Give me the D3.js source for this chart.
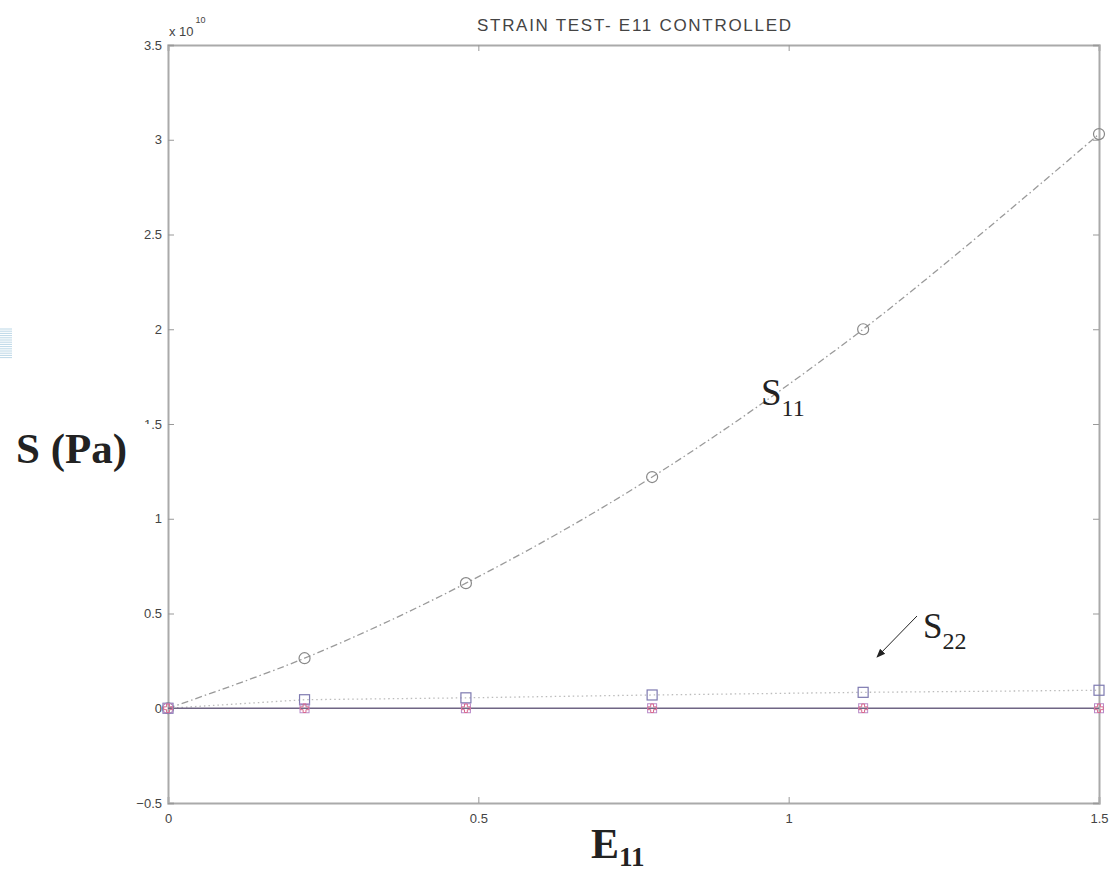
<!DOCTYPE html>
<html>
<head>
<meta charset="utf-8">
<script src="https://cdn.jsdelivr.net/npm/d3@7"></script>
<style>
  body { margin: 0; background: #fff; }
  .tick text { font-family: "Liberation Sans", Arial, sans-serif; font-size: 13px; fill: #444; }
</style>
</head>
<body>
<div id="chart"></div>
<script>
// data (stress in units of 1e10 Pa)
var strain = [0, 0.22, 0.48, 0.78, 1.12, 1.5];
var s11 = [0, 0.264, 0.66, 1.22, 2.0, 3.03];
var s22 = [0, 0.045, 0.055, 0.07, 0.084, 0.095];
var s33 = [0, 0, 0, 0, 0, 0];
var s12 = [0, 0, 0, 0, 0, 0];

var xTicks = [0, 0.5, 1, 1.5];
var yTicks = [-0.5, 0, 0.5, 1, 1.5, 2, 2.5, 3, 3.5];

var svgWidth = 1112;
var svgHeight = 872;

var margin = { top: 45, right: 13, left: 168, bottom: 69 };
var width = svgWidth - margin.left - margin.right;
var height = svgHeight - margin.top - margin.bottom;

var svg = d3.select("#chart")
    .append("svg")
    .attr("width", svgWidth)
    .attr("height", svgHeight);

// scan artefact at the left edge
var stripeG = svg.append("g");
d3.range(329, 358, 2.2).forEach(function (yy) {
    stripeG.append("line")
        .attr("x1", 0).attr("x2", 12)
        .attr("y1", yy).attr("y2", yy)
        .attr("stroke", "#a9cde0")
        .attr("stroke-width", 0.8);
});

var chartGroup = svg.append("g")
    .attr("transform", `translate(${margin.left}, ${margin.top})`);

var x = d3.scaleLinear().domain([0, 1.5]).range([0, width]);
var y = d3.scaleLinear().domain([-0.5, 3.5]).range([height, 0]);

var fmt = function (d) { return d === -0.5 ? "\u22120.5" : String(d); };

// axes, ticks pointing inward like the matlab box
chartGroup.append("g")
    .attr("transform", `translate(0, ${height})`)
    .call(d3.axisBottom(x).tickValues(xTicks).tickSize(-6).tickPadding(11).tickFormat(fmt));
chartGroup.append("g")
    .call(d3.axisTop(x).tickValues(xTicks).tickSize(-6).tickFormat(""));
chartGroup.append("g")
    .call(d3.axisLeft(y).tickValues(yTicks).tickSize(-6).tickPadding(6).tickFormat(fmt));
chartGroup.append("g")
    .attr("transform", `translate(${width}, 0)`)
    .call(d3.axisRight(y).tickValues(yTicks).tickSize(-6).tickFormat(""));

chartGroup.selectAll(".domain").attr("stroke", "#aaa").attr("stroke-width", 2);
chartGroup.selectAll(".tick line").attr("stroke", "#999");

var pts = function (vals) { return strain.map(function (s, i) { return [s, vals[i]]; }); };
var line = d3.line().x(d => x(d[0])).y(d => y(d[1]));
var smooth = d3.line().x(d => x(d[0])).y(d => y(d[1])).curve(d3.curveCatmullRom);

// S11 dash-dot
chartGroup.append("path")
    .datum(pts(s11))
    .attr("d", smooth)
    .attr("fill", "none")
    .attr("stroke", "#9a9a9a")
    .attr("stroke-width", 1.3)
    .attr("stroke-dasharray", "7,3,1.5,3");

// S22 dotted
chartGroup.append("path")
    .datum(pts(s22))
    .attr("d", line)
    .attr("fill", "none")
    .attr("stroke", "#bbb")
    .attr("stroke-width", 1.3)
    .attr("stroke-dasharray", "1.5,3");

// zero lines
chartGroup.append("path")
    .datum(pts(s33))
    .attr("d", line)
    .attr("fill", "none")
    .attr("stroke", "#6f6584")
    .attr("stroke-width", 1.3);

// markers
chartGroup.selectAll(".m11")
    .data(pts(s11))
    .enter()
    .append("circle")
    .attr("cx", d => x(d[0]))
    .attr("cy", d => y(d[1]))
    .attr("r", 5.5)
    .attr("fill", "none")
    .attr("stroke", "#888")
    .attr("stroke-width", 1.2);

chartGroup.selectAll(".m22")
    .data(pts(s22))
    .enter()
    .append("rect")
    .attr("x", d => x(d[0]) - 5)
    .attr("y", d => y(d[1]) - 5)
    .attr("width", 10)
    .attr("height", 10)
    .attr("fill", "none")
    .attr("stroke", "#7e7ab0")
    .attr("stroke-width", 1.2);

chartGroup.selectAll(".m33")
    .data(pts(s33))
    .enter()
    .append("rect")
    .attr("x", d => x(d[0]) - 4.5)
    .attr("y", d => y(d[1]) - 4.5)
    .attr("width", 9)
    .attr("height", 9)
    .attr("fill", "none")
    .attr("stroke", "#b88ac8")
    .attr("stroke-width", 1);

chartGroup.selectAll(".m12")
    .data(pts(s12))
    .enter()
    .append("path")
    .attr("transform", d => `translate(${x(d[0])}, ${y(d[1])})`)
    .attr("d", d3.symbol(d3.symbolCross, 40))
    .attr("fill", "none")
    .attr("stroke", "#d96a8e")
    .attr("stroke-width", 1);

// title and exponent
svg.append("text")
    .attr("x", 477).attr("y", 31)
    .attr("textLength", 314)
    .attr("lengthAdjust", "spacing")
    .attr("font-family", "Liberation Sans, Arial, sans-serif")
    .attr("font-size", 17)
    .attr("fill", "#444")
    .text("STRAIN TEST- E11 CONTROLLED");

var expo = svg.append("text")
    .attr("x", 169).attr("y", 36)
    .attr("font-family", "Liberation Sans, Arial, sans-serif")
    .attr("font-size", 13)
    .attr("fill", "#444");
expo.append("tspan").text("x 10");
expo.append("tspan").attr("dy", -13).attr("dx", 2).attr("font-size", 9).text("10");

// y label with white backing that hides the "1" of 1.5
svg.append("rect")
    .attr("x", 14).attr("y", 424).attr("width", 137).attr("height", 48)
    .attr("fill", "#fff");
svg.append("text")
    .attr("x", 16).attr("y", 463)
    .attr("font-family", "Liberation Serif, Times New Roman, serif")
    .attr("font-weight", "bold")
    .attr("font-size", 43)
    .attr("fill", "#222")
    .text("S (Pa)");

// x label
var xl = svg.append("text")
    .attr("x", 591).attr("y", 858)
    .attr("font-family", "Liberation Serif, Times New Roman, serif")
    .attr("font-weight", "bold")
    .attr("font-size", 42)
    .attr("fill", "#222");
xl.append("tspan").text("E");
xl.append("tspan").attr("dy", 8).attr("font-size", 27).text("11");

// curve labels
var l11 = svg.append("text")
    .attr("x", 761).attr("y", 405)
    .attr("font-family", "Liberation Serif, Times New Roman, serif")
    .attr("font-size", 37)
    .attr("fill", "#222");
l11.append("tspan").text("S");
l11.append("tspan").attr("dy", 11).attr("font-size", 24).text("11");

var l22 = svg.append("text")
    .attr("x", 923).attr("y", 638)
    .attr("font-family", "Liberation Serif, Times New Roman, serif")
    .attr("font-size", 35)
    .attr("fill", "#222");
l22.append("tspan").text("S");
l22.append("tspan").attr("dy", 11).attr("font-size", 24).text("22");

// arrow to S22 curve
svg.append("defs").append("marker")
    .attr("id", "arrow")
    .attr("viewBox", "0 0 10 10")
    .attr("refX", 9).attr("refY", 5)
    .attr("markerWidth", 9).attr("markerHeight", 9)
    .attr("orient", "auto")
    .append("path")
    .attr("d", "M0,1 L10,5 L0,9 z")
    .attr("fill", "#222");
svg.append("line")
    .attr("x1", 917).attr("y1", 616)
    .attr("x2", 877).attr("y2", 657)
    .attr("stroke", "#222")
    .attr("stroke-width", 1)
    .attr("marker-end", "url(#arrow)");
</script>
</body>
</html>
